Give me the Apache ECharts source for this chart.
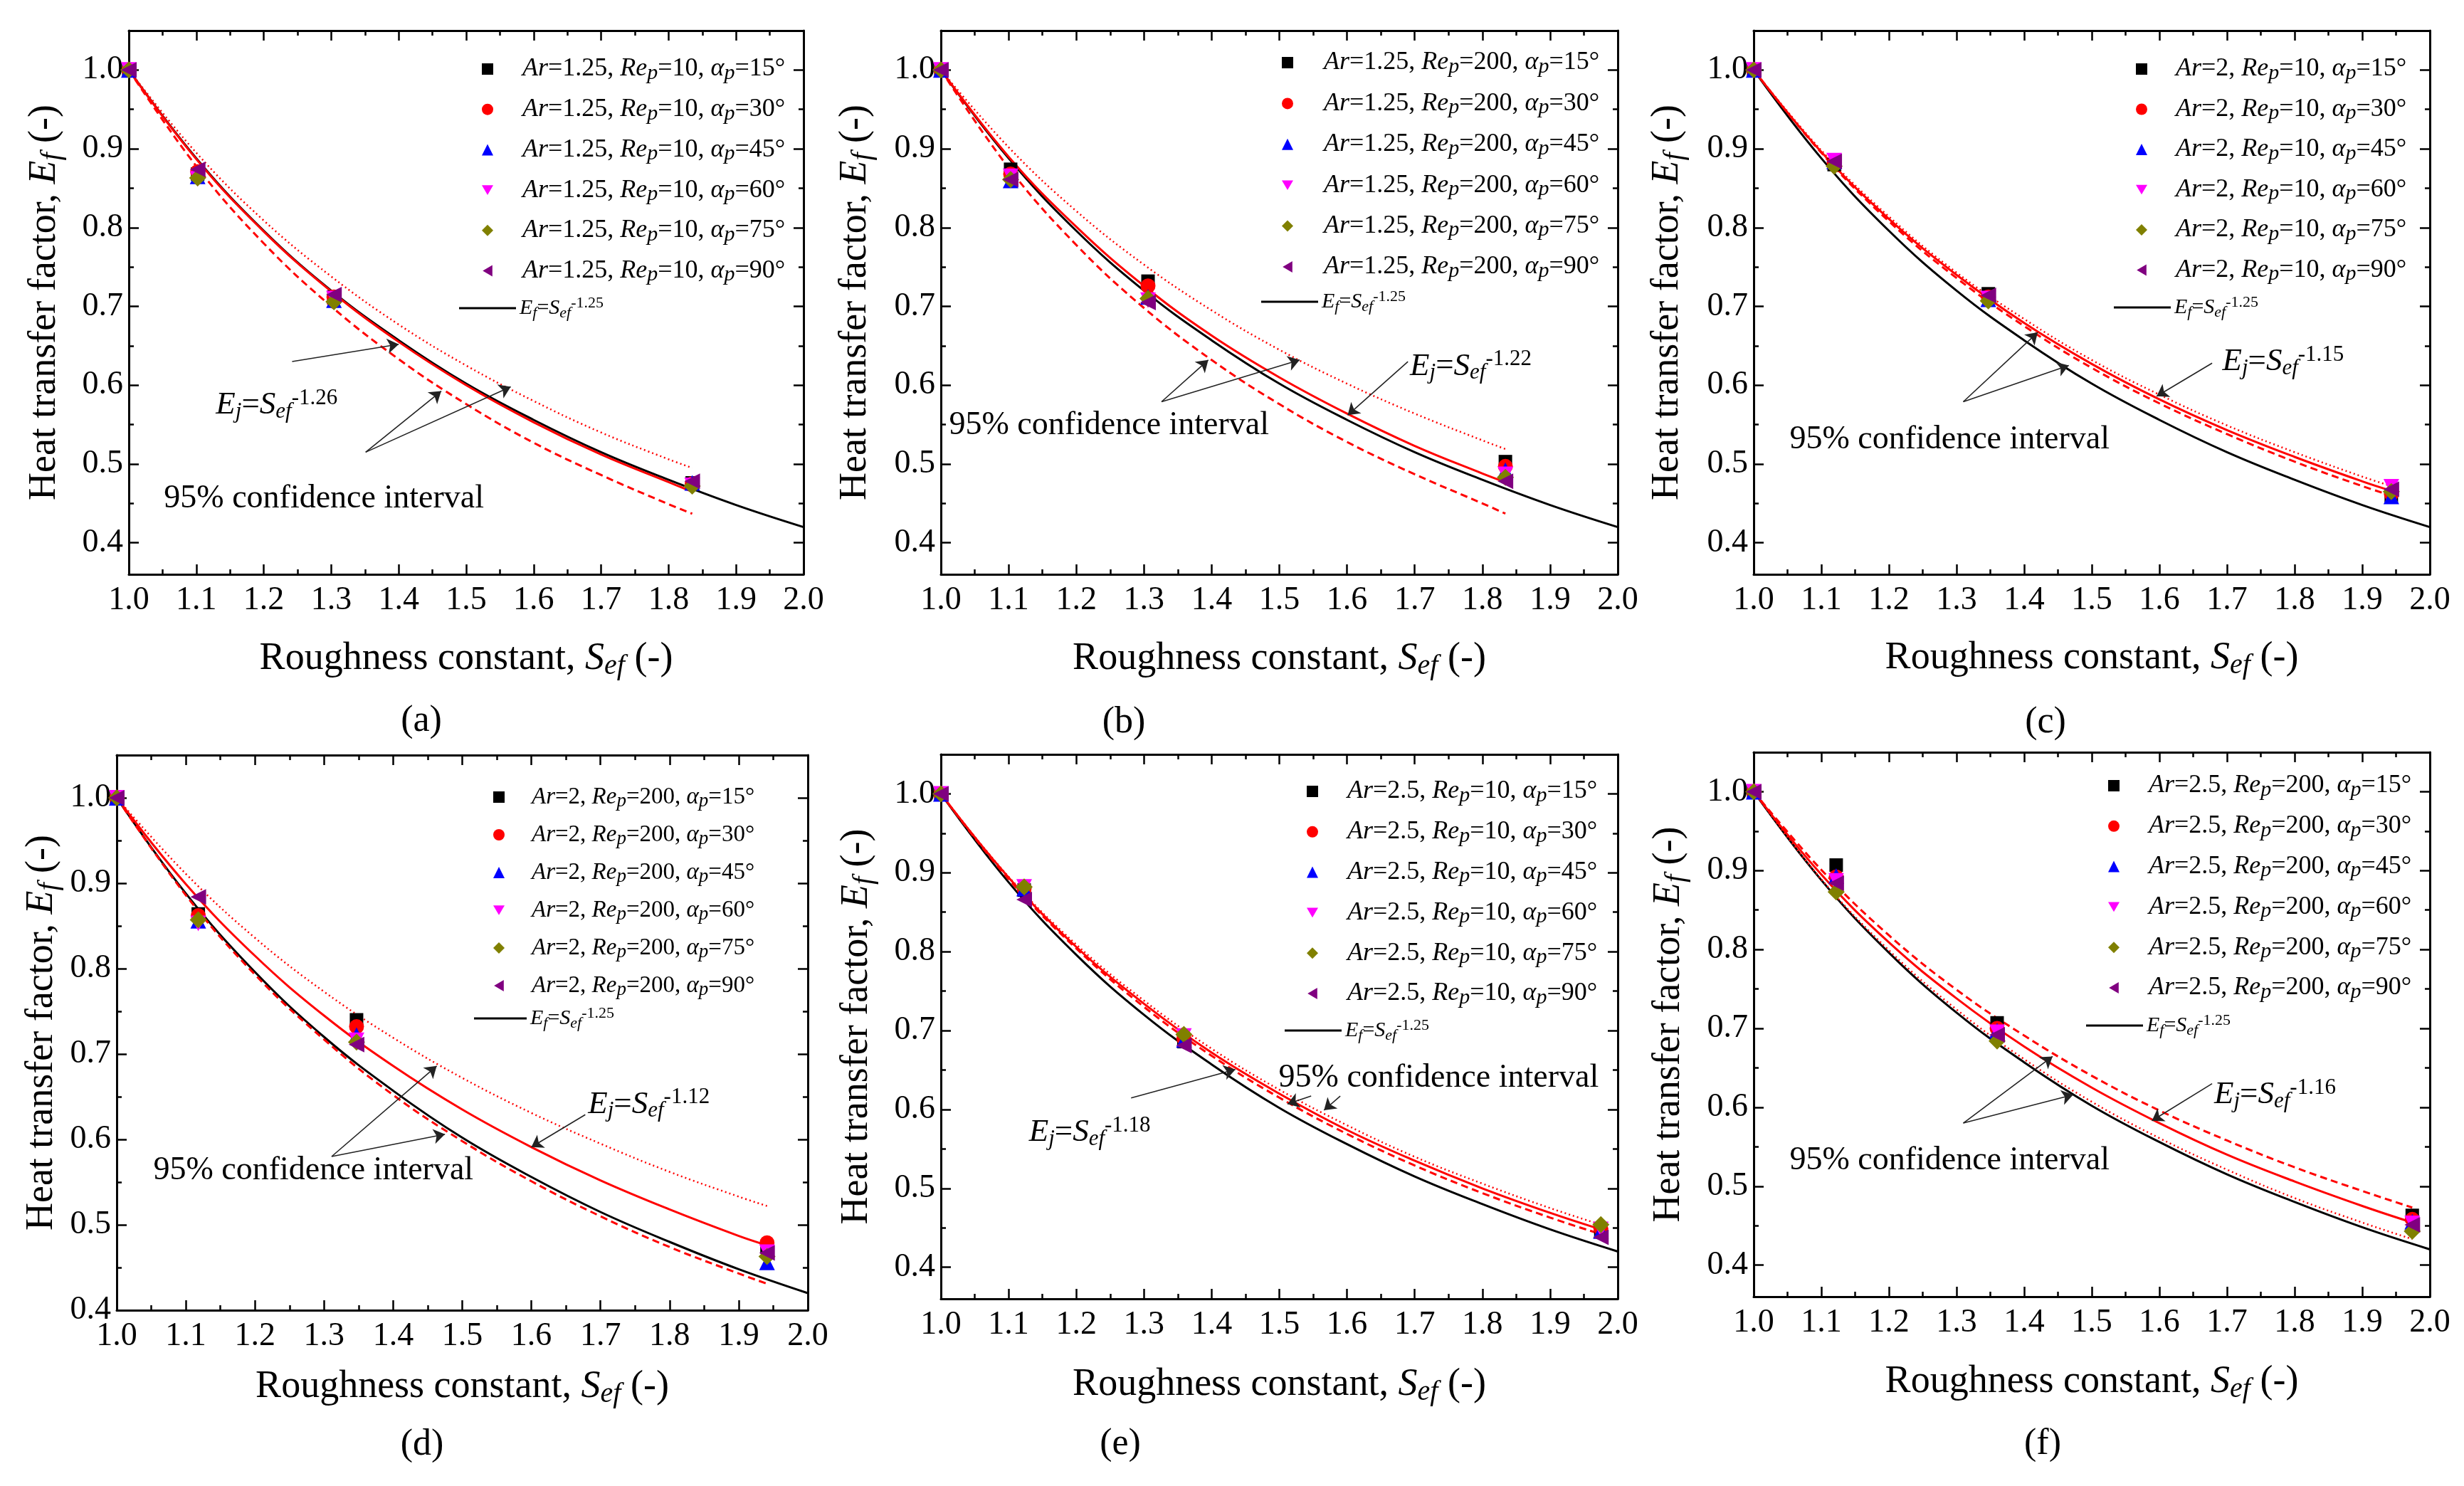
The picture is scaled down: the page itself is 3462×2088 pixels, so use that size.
<!DOCTYPE html>
<html>
<head>
<meta charset="utf-8">
<script src="https://cdn.jsdelivr.net/npm/echarts@6.0.0/dist/echarts.min.js"></script>
<style>
  html, body { margin: 0; padding: 0; background: #fff; }
  #chart { width: 3462px; height: 2088px; }
</style>
</head>
<body>
<div id="chart"></div>
<script>
const FONT = 'Liberation Serif';
const ANGLES = [15, 30, 45, 60, 75, 90];

// black reference line, Ef = Sef^-1.25
const refX = [1.0, 1.1, 1.2, 1.3, 1.4, 1.5, 1.6, 1.7, 1.8, 1.9, 2.0];
const refY = [1.0, 0.888, 0.796, 0.720, 0.657, 0.602, 0.556, 0.515, 0.480, 0.448, 0.420];

// (a) Ar=1.25, Rep=10
const xA = [1.0, 1.102, 1.304, 1.835];
const ptsA = [
  [1.0, 0.868, 0.712, 0.476],
  [1.0, 0.871, 0.712, 0.475],
  [1.0, 0.865, 0.708, 0.476],
  [1.0, 0.862, 0.710, 0.473],
  [1.0, 0.863, 0.706, 0.472],
  [1.0, 0.874, 0.715, 0.478],
];
const fitXA = [1.0, 1.1, 1.2, 1.3, 1.4, 1.5, 1.6, 1.7, 1.8, 1.835];
const fitA  = [1.0, 0.887, 0.795, 0.719, 0.655, 0.600, 0.553, 0.512, 0.477, 0.465];
const dashA = [1.0, 0.878, 0.780, 0.700, 0.633, 0.576, 0.527, 0.486, 0.449, 0.437];
const dotA  = [1.0, 0.895, 0.809, 0.738, 0.677, 0.625, 0.580, 0.540, 0.506, 0.495];

// (b) Ar=1.25, Rep=200
const xB = [1.0, 1.103, 1.306, 1.834];
const ptsB = [
  [1.0, 0.874, 0.732, 0.503],
  [1.0, 0.868, 0.726, 0.497],
  [1.0, 0.860, 0.712, 0.492],
  [1.0, 0.865, 0.708, 0.487],
  [1.0, 0.861, 0.710, 0.483],
  [1.0, 0.861, 0.705, 0.478],
];
const fitXB = [1.0, 1.1, 1.2, 1.3, 1.4, 1.5, 1.6, 1.7, 1.8, 1.834];
const fitB  = [1.0, 0.890, 0.801, 0.726, 0.663, 0.610, 0.564, 0.523, 0.488, 0.477];
const dashB = [1.0, 0.876, 0.778, 0.698, 0.632, 0.576, 0.528, 0.487, 0.450, 0.437];
const dotB  = [1.0, 0.902, 0.821, 0.753, 0.695, 0.645, 0.602, 0.564, 0.530, 0.519];

// (c) Ar=2, Rep=10
const xC = [1.0, 1.119, 1.347, 1.943];
const ptsC = [
  [1.0, 0.880, 0.716, 0.460],
  [1.0, 0.882, 0.712, 0.462],
  [1.0, 0.884, 0.709, 0.459],
  [1.0, 0.885, 0.710, 0.471],
  [1.0, 0.878, 0.707, 0.465],
  [1.0, 0.884, 0.714, 0.468],
];
const fitXC = [1.0, 1.1, 1.2, 1.3, 1.4, 1.5, 1.6, 1.7, 1.8, 1.9, 1.943];
const fitC  = [1.0, 0.896, 0.811, 0.740, 0.679, 0.627, 0.582, 0.543, 0.509, 0.478, 0.466];
const dashC = [1.0, 0.895, 0.808, 0.736, 0.675, 0.622, 0.577, 0.538, 0.503, 0.472, 0.460];
const dotC  = [1.0, 0.898, 0.814, 0.743, 0.684, 0.632, 0.588, 0.549, 0.515, 0.484, 0.472];

// (d) Ar=2, Rep=200
const xD = [1.0, 1.118, 1.347, 1.941];
const ptsD = [
  [1.0, 0.864, 0.740, 0.474],
  [1.0, 0.862, 0.732, 0.479],
  [1.0, 0.856, 0.722, 0.456],
  [1.0, 0.853, 0.716, 0.468],
  [1.0, 0.857, 0.714, 0.463],
  [1.0, 0.884, 0.711, 0.467],
];
const fitXD = [1.0, 1.1, 1.2, 1.3, 1.4, 1.5, 1.6, 1.7, 1.8, 1.9, 1.941];
const fitD  = [1.0, 0.899, 0.815, 0.745, 0.686, 0.635, 0.591, 0.552, 0.518, 0.487, 0.476];
const dashD = [1.0, 0.886, 0.793, 0.717, 0.652, 0.598, 0.551, 0.510, 0.474, 0.443, 0.431];
const dotD  = [1.0, 0.911, 0.836, 0.773, 0.719, 0.672, 0.631, 0.595, 0.562, 0.533, 0.522];

// (e) Ar=2.5, Rep=10
const xE = [1.0, 1.123, 1.359, 1.975];
const ptsE = [
  [1.0, 0.878, 0.686, 0.447],
  [1.0, 0.880, 0.690, 0.449],
  [1.0, 0.880, 0.688, 0.446],
  [1.0, 0.882, 0.693, 0.448],
  [1.0, 0.882, 0.695, 0.454],
  [1.0, 0.866, 0.681, 0.438],
];
const fitXE = [1.0, 1.1, 1.2, 1.3, 1.4, 1.5, 1.6, 1.7, 1.8, 1.9, 1.975];
const fitE  = [1.0, 0.894, 0.806, 0.734, 0.672, 0.620, 0.574, 0.535, 0.500, 0.469, 0.448];
const dashE = [1.0, 0.892, 0.804, 0.730, 0.668, 0.615, 0.569, 0.529, 0.494, 0.463, 0.442];
const dotE  = [1.0, 0.895, 0.809, 0.738, 0.677, 0.625, 0.580, 0.540, 0.506, 0.475, 0.454];

// (f) Ar=2.5, Rep=200
const xF = [1.0, 1.122, 1.360, 1.974];
const ptsF = [
  [1.0, 0.907, 0.707, 0.463],
  [1.0, 0.892, 0.700, 0.458],
  [1.0, 0.893, 0.697, 0.455],
  [1.0, 0.887, 0.695, 0.453],
  [1.0, 0.873, 0.684, 0.443],
  [1.0, 0.884, 0.692, 0.451],
];
const fitXF = [1.0, 1.1, 1.2, 1.3, 1.4, 1.5, 1.6, 1.7, 1.8, 1.9, 1.974];
const fitF  = [1.0, 0.895, 0.809, 0.738, 0.677, 0.625, 0.580, 0.540, 0.506, 0.475, 0.454];
const dashF = [1.0, 0.901, 0.818, 0.749, 0.691, 0.640, 0.596, 0.558, 0.524, 0.494, 0.473];
const dotF  = [1.0, 0.889, 0.799, 0.724, 0.661, 0.607, 0.561, 0.521, 0.485, 0.454, 0.433];

const MARKERS = [
  { symbol: 'rect', size: 19, color: '#000000' },
  { symbol: 'circle', size: 21, color: '#ff0000' },
  { symbol: 'triangle', size: 22, color: '#0000ff' },
  { symbol: 'path://M0,0L20,0L10,17Z', size: 22, color: '#ff00ff' },
  { symbol: 'diamond', size: 24, color: '#808000' },
  { symbol: 'path://M0,10L17,0L17,20Z', size: 22, color: '#800080' },
];

const panels = [
  { tag: '(a)', ar: '1.25', re: '10', xs: xA, pts: ptsA, fx: fitXA, fit: fitA, dash: dashA, dot: dotA,
    box: [181, 43, 948, 764], ymin: 0.36, xGap: 89, yGap: 88,
    leg: { x: 685, y: 97, step: 56.7, F: 36, gap: 36 }, line: { x: 645, y: 433, w: 80 }, tagPos: [592, 1013],
    fitNote: { at: [1.129, 0.575], exp: '-1.26', arrow: [[1.242, 0.630], [1.400, 0.652]] },
    ciNote: { at: [1.052, 0.456], arrows: [[[1.351, 0.515], [1.463, 0.5925]], [[1.351, 0.515], [1.566, 0.598]]] } },
  { tag: '(b)', ar: '1.25', re: '200', xs: xB, pts: ptsB, fx: fitXB, fit: fitB, dash: dashB, dot: dotB,
    box: [1322, 43, 951, 764], ymin: 0.36, xGap: 89, yGap: 90,
    leg: { x: 1809, y: 88, step: 57.4, F: 36, gap: 38 }, line: { x: 1772, y: 424, w: 80 }, tagPos: [1579, 1015],
    fitNote: { at: [1.693, 0.624], exp: '-1.22', arrow: [[1.690, 0.630], [1.601, 0.562]] },
    ciNote: { at: [1.012, 0.549], arrows: [[[1.326, 0.579], [1.395, 0.632]], [[1.326, 0.579], [1.530, 0.632]]] } },
  { tag: '(c)', ar: '2', re: '10', xs: xC, pts: ptsC, fx: fitXC, fit: fitC, dash: dashC, dot: dotC,
    box: [2464, 43, 950, 764], ymin: 0.36, xGap: 88, yGap: 91,
    leg: { x: 3009, y: 97, step: 56.5, F: 36, gap: 35 }, line: { x: 2970, y: 432, w: 80 }, tagPos: [2874, 1015],
    fitNote: { at: [1.693, 0.630], exp: '-1.15', arrow: [[1.678, 0.628], [1.596, 0.586]] },
    ciNote: { at: [1.053, 0.531], arrows: [[[1.310, 0.579], [1.420, 0.667]], [[1.310, 0.579], [1.466, 0.625]]] } },
  { tag: '(d)', ar: '2', re: '200', xs: xD, pts: ptsD, fx: fitXD, fit: fitD, dash: dashD, dot: dotD,
    box: [164, 1061, 971, 780], ymin: 0.4, xGap: 78, yGap: 75,
    leg: { x: 701, y: 1120, step: 53, F: 33, gap: 33 }, line: { x: 666, y: 1431, w: 74 }, tagPos: [593, 2030],
    fitNote: { at: [1.682, 0.641], exp: '-1.12', arrow: [[1.678, 0.629], [1.600, 0.591]] },
    ciNote: { at: [1.053, 0.563], arrows: [[[1.311, 0.580], [1.463, 0.686]], [[1.311, 0.580], [1.475, 0.606]]] } },
  { tag: '(e)', ar: '2.5', re: '10', xs: xE, pts: ptsE, fx: fitXE, fit: fitE, dash: dashE, dot: dotE,
    box: [1322, 1060, 951, 765], ymin: 0.36, xGap: 91, yGap: 88,
    leg: { x: 1844, y: 1112, step: 56.8, F: 36, gap: 36 }, line: { x: 1805, y: 1448, w: 80 }, tagPos: [1574, 2029],
    fitNote: { at: [1.130, 0.5705], exp: '-1.18', arrow: [[1.281, 0.6145], [1.435, 0.6506]] },
    ciNote: { at: [1.499, 0.640], arrows: [[[1.547, 0.617], [1.512, 0.607]], [[1.590, 0.617], [1.566, 0.599]]] } },
  { tag: '(f)', ar: '2.5', re: '200', xs: xF, pts: ptsF, fx: fitXF, fit: fitF, dash: dashF, dot: dotF,
    box: [2464, 1057, 950, 765], ymin: 0.36, xGap: 90, yGap: 89,
    leg: { x: 2970, y: 1104, step: 56.8, F: 36, gap: 36 }, line: { x: 2931, y: 1441, w: 80 }, tagPos: [2870, 2029],
    fitNote: { at: [1.681, 0.616], exp: '-1.16', arrow: [[1.678, 0.630], [1.589, 0.583]] },
    ciNote: { at: [1.053, 0.532], arrows: [[[1.310, 0.580], [1.442, 0.6645]], [[1.310, 0.580], [1.4725, 0.616]]] } },
];

const REF_NAME = 'Ef=Sef^-1.25';

// rich text styles: i = italic, s = subscript, p = superscript
function richSet(F, f, lh, subD, supD) {
  return {
    i: { fontFamily: FONT, fontStyle: 'italic', fontSize: F, lineHeight: lh, color: '#000' },
    s: { fontFamily: FONT, fontStyle: 'italic', fontSize: f, lineHeight: Math.max(2, lh - 2 * subD), verticalAlign: 'bottom', color: '#000' },
    p: { fontFamily: FONT, fontSize: f, lineHeight: Math.max(2, lh - 2 * supD), verticalAlign: 'top', color: '#000' },
  };
}

const pairs = (xs, ys) => xs.map((x, i) => [x, ys[i]]);
const seriesName = (p, ang) => `Ar=${p.ar}, Rep=${p.re}, αp=${ang}°`;

const labelMap = {};
panels.forEach(p => ANGLES.forEach(ang => {
  labelMap[seriesName(p, ang)] = `{g| }{i|Ar}=${p.ar}, {i|Re}{s|p}=${p.re}, {i|α}{s|p}=${ang}°`;
}));

const nameStyle = { fontFamily: FONT, fontSize: 54, lineHeight: 60, color: '#000', rich: richSet(54, 40, 60, 18, 18) };
const lineBlack = { color: '#000', width: 3 };
const tickStyle = { color: '#000', width: 2.5 };

const grids = [], xAxes = [], yAxes = [], series = [], legends = [], graphics = [];

panels.forEach((p, g) => {
  grids.push({ left: p.box[0], top: p.box[1], width: p.box[2], height: p.box[3] });

  const xCommon = {
    gridIndex: g, type: 'value', min: 1, max: 2, interval: 0.1,
    axisLine: { show: true, onZero: false, lineStyle: lineBlack },
    axisTick: { show: true, inside: true, length: 14, lineStyle: tickStyle },
    minorTick: { show: true, splitNumber: 2, length: 7, lineStyle: tickStyle },
    splitLine: { show: false }, minorSplitLine: { show: false },
  };
  xAxes.push(Object.assign({}, xCommon, {
    position: 'bottom',
    name: 'Roughness constant, {i|S}{s|ef} (-)', nameLocation: 'middle', nameGap: p.xGap, nameTextStyle: nameStyle,
    axisLabel: { fontFamily: FONT, fontSize: 46, color: '#000', margin: 14, formatter: v => v.toFixed(1) },
  }));
  xAxes.push(Object.assign({}, xCommon, { position: 'top', axisLabel: { show: false } }));

  const minor = p.ymin === 0.4 ? 13 : 14;
  const yCommon = { gridIndex: g, type: 'value', min: p.ymin, max: 1.05, splitLine: { show: false } };
  yAxes.push(Object.assign({}, yCommon, {
    position: 'left', splitNumber: 7,
    name: 'Heat transfer factor, {i|E}{s|f} (-)', nameLocation: 'middle', nameGap: p.yGap, nameTextStyle: nameStyle,
    axisLine: { show: true, onZero: false, lineStyle: lineBlack },
    axisTick: { show: true, inside: true, length: 14, lineStyle: tickStyle },
    axisLabel: {
      fontFamily: FONT, fontSize: 46, color: '#000', margin: 8,
      formatter: v => (Math.abs(v * 10 - Math.round(v * 10)) < 1e-6 ? v.toFixed(1) : ''),
    },
  }));
  yAxes.push(Object.assign({}, yCommon, {
    position: 'left', splitNumber: minor,
    axisLine: { show: false }, axisLabel: { show: false },
    axisTick: { show: true, inside: true, length: 7, lineStyle: tickStyle },
  }));
  yAxes.push(Object.assign({}, yCommon, {
    position: 'right', splitNumber: 7,
    axisLine: { show: true, onZero: false, lineStyle: lineBlack }, axisLabel: { show: false },
    axisTick: { show: true, inside: true, length: 14, lineStyle: tickStyle },
  }));
  yAxes.push(Object.assign({}, yCommon, {
    position: 'right', splitNumber: minor,
    axisLine: { show: false }, axisLabel: { show: false },
    axisTick: { show: true, inside: true, length: 7, lineStyle: tickStyle },
  }));

  const xi = 2 * g, yi = 4 * g;
  const lineBase = { type: 'line', xAxisIndex: xi, yAxisIndex: yi, smooth: 0.4, showSymbol: false, silent: true, z: 2 };

  series.push(Object.assign({}, lineBase, {
    name: REF_NAME, data: pairs(refX, refY), lineStyle: lineBlack, itemStyle: { color: '#000' },
  }));
  series.push(Object.assign({}, lineBase, {
    name: p.tag + ' lower', data: pairs(p.fx, p.dash), itemStyle: { color: '#ff0000' },
    lineStyle: { color: '#ff0000', width: 3, type: [10, 6] },
  }));
  series.push(Object.assign({}, lineBase, {
    name: p.tag + ' upper', data: pairs(p.fx, p.dot), itemStyle: { color: '#ff0000' },
    lineStyle: { color: '#ff0000', width: 2.5, type: [2, 4] },
  }));

  const annRich = richSet(45, 31, 50, 15, 15);
  series.push(Object.assign({}, lineBase, {
    name: p.tag + ' fit', data: pairs(p.fx, p.fit), itemStyle: { color: '#ff0000' },
    lineStyle: { color: '#ff0000', width: 3 },
    markLine: {
      silent: true, animation: false, symbol: ['none', 'arrow'], symbolSize: 16,
      label: { show: false }, emphasis: { disabled: true },
      lineStyle: { color: '#222', width: 1.6, type: 'solid' },
      data: [p.fitNote.arrow].concat(p.ciNote.arrows).map(a => [{ coord: a[0] }, { coord: a[1] }]),
    },
    markPoint: {
      silent: true, animation: false, symbol: 'circle', symbolSize: 0.1,
      itemStyle: { color: 'rgba(0,0,0,0)' },
      label: { show: true, position: 'right', distance: 0, color: '#000', fontFamily: FONT },
      data: [
        { coord: p.fitNote.at, label: {
            formatter: `{i|E}{s|j}{n|=}{i|S}{s|ef}{p|${p.fitNote.exp}}`,
            fontSize: 45, lineHeight: 50,
            rich: Object.assign({ n: { fontFamily: FONT, fontSize: 45, lineHeight: 50, color: '#000' } }, annRich) } },
        { coord: p.ciNote.at, label: { formatter: '95% confidence interval', fontSize: 46, lineHeight: 50 } },
      ],
    },
  }));

  ANGLES.forEach((ang, k) => {
    series.push({
      name: seriesName(p, ang), type: 'scatter', xAxisIndex: xi, yAxisIndex: yi,
      symbol: MARKERS[k].symbol, symbolSize: MARKERS[k].size,
      itemStyle: { color: MARKERS[k].color, opacity: 1 }, z: 4,
      data: pairs(p.xs, p.pts[k]),
    });
  });

  const F = p.leg.F, lh = F + 6;
  const legRich = richSet(F, Math.round(F * 0.82), lh, 10, 10);
  legRich.g = { width: p.leg.gap, fontSize: F, lineHeight: lh };
  legends.push({
    orient: 'vertical', left: p.leg.x - 8, top: p.leg.y - lh / 2, padding: 0,
    itemWidth: 16, itemHeight: 16, itemGap: p.leg.step - lh, selectedMode: false,
    data: ANGLES.map((ang, k) => ({ name: seriesName(p, ang), icon: MARKERS[k].symbol })),
    formatter: n => labelMap[n],
    textStyle: { fontFamily: FONT, fontSize: F, lineHeight: lh, color: '#000', rich: legRich },
  });
  legends.push({
    orient: 'vertical', left: p.line.x, top: p.line.y - 18, padding: 0,
    itemWidth: p.line.w, itemHeight: 3, selectedMode: false,
    data: [{ name: REF_NAME, icon: 'rect' }],
    formatter: () => '{i|E}{s|f}={i|S}{s|ef}{p|-1.25}',
    textStyle: { fontFamily: FONT, fontSize: 30, lineHeight: 36, color: '#000', rich: richSet(30, 22, 36, 14, 15) },
  });

  graphics.push({
    type: 'text', x: p.tagPos[0], y: p.tagPos[1],
    style: { text: p.tag, fontFamily: FONT, fontSize: 52, fill: '#000', align: 'center', verticalAlign: 'middle' },
  });
});

const chart = echarts.init(document.getElementById('chart'));
chart.setOption({
  backgroundColor: '#ffffff',
  animation: false,
  textStyle: { fontFamily: FONT },
  grid: grids,
  xAxis: xAxes,
  yAxis: yAxes,
  legend: legends,
  graphic: graphics,
  series: series,
});
</script>
</body>
</html>
